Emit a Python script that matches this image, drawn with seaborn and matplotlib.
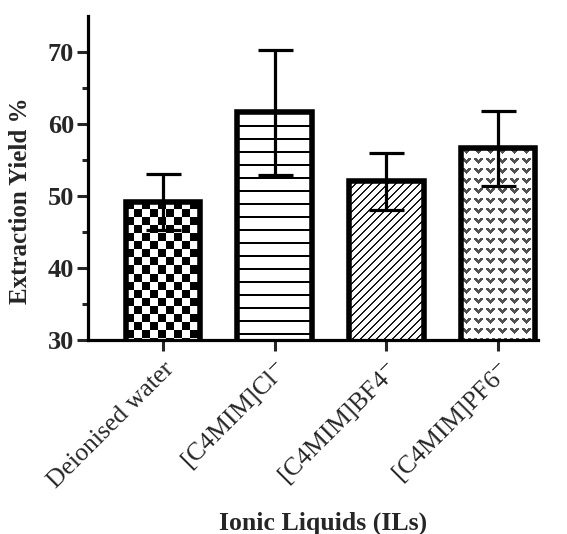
import numpy as np
import matplotlib
matplotlib.use("Agg")
import matplotlib.pyplot as plt
import seaborn as sns

categories = ["Deionised water", "[C4MIM]Cl$^{-}$", "[C4MIM]BF4$^{-}$", "[C4MIM]PF6$^{-}$"]
yields = [49.2, 61.6, 52.05, 56.6]
errors = [3.9, 8.7, 3.95, 5.2]
patterns = ["checker", "hlines", "diag", "chevron"]

sns.set_theme(style="ticks")
plt.rcParams["font.family"] = ["Liberation Serif", "DejaVu Serif"]
plt.rcParams["mathtext.fontset"] = "stix"

fig = plt.figure(figsize=(5.67, 5.34), dpi=100)
ax = fig.add_axes([88 / 567, 1 - 340 / 534, 450 / 567, 324 / 534])

sns.barplot(x=categories, y=yields, color="white", edgecolor="black",
            linewidth=4.0, width=0.67, errorbar=None, ax=ax, zorder=2)
for p in ax.patches:
    p.set_facecolor("none")

ax.set_xlim(-0.671, 3.358)
ax.set_ylim(30, 75)

ax.errorbar(range(len(categories)), yields, yerr=errors, fmt="none",
            ecolor="black", elinewidth=2.3, capsize=12.6, capthick=2.3, zorder=3)


def make_pattern(kind, H, W):
    i, j = np.mgrid[0:H, 0:W]
    img = np.ones((H, W))
    if kind == "checker":
        img = ((i // 8 + j // 8) % 2).astype(float)
    elif kind == "hlines":
        img[(i % 13) < 2] = 0.0
    elif kind == "diag":
        img[((i + j) % 8) < 2] = 0.1
    elif kind == "chevron":
        tile = np.ones((10, 12))
        rows = {0: [1, 2, 3, 7, 8, 9], 1: [1, 2, 3, 4, 6, 7, 8, 9],
                2: [2, 3, 4, 5, 6, 7, 8], 3: [3, 4, 5, 6, 7], 4: [4, 5, 6], 5: [5]}
        for r, cols in rows.items():
            for c in cols:
                tile[r, c] = 0.32
        img = tile[i % 10, j % 12]
    return img


ybot = ax.get_ylim()[0]
for patch, kind in zip(ax.patches, patterns):
    x0 = patch.get_x()
    w = patch.get_width()
    y0 = max(patch.get_y(), ybot)
    y1 = patch.get_y() + patch.get_height()
    px0, py0 = ax.transData.transform((x0, y0))
    px1, py1 = ax.transData.transform((x0 + w, y1))
    W = max(int(round(px1 - px0)), 1)
    H = max(int(round(py1 - py0)), 1)
    img = make_pattern(kind, H, W)
    im = ax.imshow(img, extent=(x0, x0 + w, y0, y1), origin="upper", cmap="gray",
                   vmin=0, vmax=1, interpolation="nearest", aspect="auto", zorder=1)
    im.set_clip_path(patch)

ax.set_xlim(-0.671, 3.358)
ax.set_ylim(30, 75)

ax.set_yticks([30, 40, 50, 60, 70])
ax.set_yticks([35, 45, 55, 65], minor=True)
ax.tick_params(axis="y", which="major", length=8, width=2.2, labelsize=19, pad=2)
ax.tick_params(axis="y", which="minor", length=4.5, width=2.2)
ax.tick_params(axis="x", which="major", length=8, width=2.2, labelsize=18.5, pad=5)
for lab in ax.get_yticklabels():
    lab.set_fontweight("bold")
for lab in ax.get_xticklabels():
    lab.set_rotation(45)
    lab.set_ha("right")
    lab.set_rotation_mode("anchor")

sns.despine(ax=ax)
for s in ["left", "bottom"]:
    ax.spines[s].set_linewidth(2.3)
    ax.spines[s].set_color("black")

ax.set_ylabel("Extraction Yield %", fontsize=18, fontweight="bold")
ax.yaxis.set_label_coords(-0.125, 0.43)
ax.set_xlabel("Ionic Liquids (ILs)", fontsize=18.5, fontweight="bold")
ax.xaxis.set_label_coords(0.523, -0.53)

fig.savefig("out.png", dpi=100)
